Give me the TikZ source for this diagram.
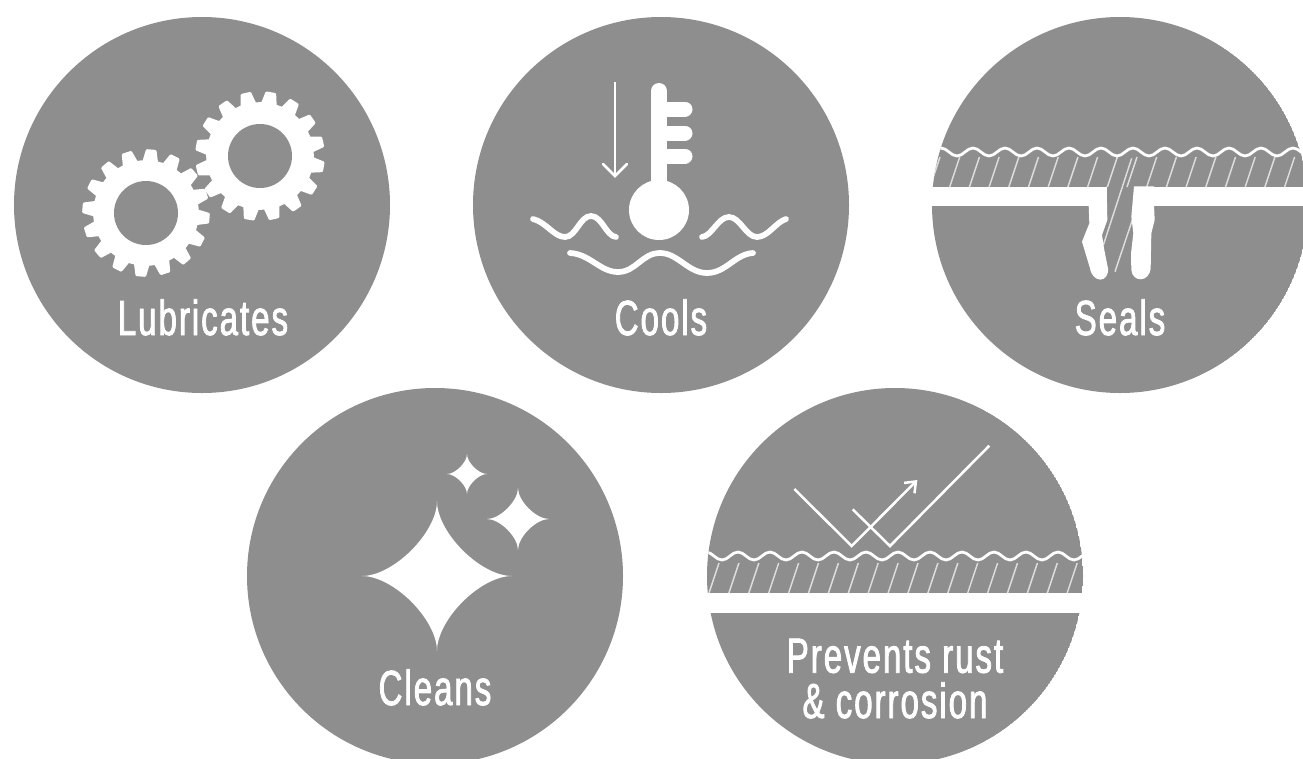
\documentclass[tikz,border=0pt]{standalone}
\usepackage{fontspec}
\newfontfamily\labfont[FakeStretch=0.67,LetterSpace=4,FakeBold=1.6]{Liberation Sans}
\definecolor{disc}{RGB}{143,142,143}
\usetikzlibrary{arrows.meta}
\tikzset{
 discshape/.style={fill=disc,draw=none},
 caption/.style={text=white,font=\labfont\fontsize{37}{34}\selectfont,align=center,inner sep=0pt,anchor=base},
 wave/.style={draw=white,line width=4.3pt,line cap=round,fill=none},
 surface/.style={draw=white,line width=2.1pt,fill=none},
 hatch/.style={draw=white,line width=1.1pt,opacity=.7},
 bandgap/.style={fill=white,draw=none},
 rayline/.style={draw=white,line width=1.9pt,line join=miter},
 toothed/.style={fill=white,draw=white,line width=2pt,line join=round},
}
\newcommand{\gearat}[4]{% x,y,rotation,outer radius
 \fill[toothed,shift={(#1,#2)},rotate=#3]
  (0:#4-12.5) \foreach \i in {0,...,15}{
   -- ({\i*22.5+2.5}:#4-12.5) -- ({\i*22.5+6}:#4-1.5) -- ({\i*22.5+13.5}:#4-1.5) -- ({\i*22.5+17}:#4-12.5) -- ({(\i+1)*22.5}:#4-12.5)
  } -- cycle;
 \fill[disc] (#1,#2) circle[radius=32];
}
\newcommand{\ripple}[3]{% x start, y of first trough, periods
 \draw[surface] (#1,#2) \foreach \k in {1,...,#3}{
   .. controls +(6,0) and +(-6,0) .. ++(16,-8) .. controls +(6,0) and +(-6,0) .. ++(16,8)
 };
}
\newcommand{\sparkle}[3]{%
 \fill[white] (#1-#3,#2)
  .. controls (#1-0.58*#3,#2) and (#1,#2-0.58*#3) .. (#1,#2-#3)
  .. controls (#1,#2-0.58*#3) and (#1+0.58*#3,#2) .. (#1+#3,#2)
  .. controls (#1+0.58*#3,#2) and (#1,#2+0.58*#3) .. (#1,#2+#3)
  .. controls (#1,#2+0.58*#3) and (#1-0.58*#3,#2) .. cycle;}
\begin{document}
\begin{tikzpicture}[x=0.75pt,y=-0.75pt,line cap=butt]
\useasboundingbox (0,0) rectangle (1303,758);
\clip (0,0) rectangle (1303,758);
\fill[white] (0,0) rectangle (1303,758);
% Lubricates
\fill[discshape] (202,205) circle[radius=188];
\gearat{146}{213}{5}{64}
\gearat{260}{156}{0}{65}
\node[caption] (lub) at (203,335) {Lubricates};
% Cools
\fill[discshape] (661,205) circle[radius=188];
\draw[white,line width=16*0.75pt,line cap=round] (659,91) -- (659,200);
\foreach \yy in {109,133,156}{\draw[white,line width=15*0.75pt,line cap=round] (659,\yy) -- (685,\yy);}
\fill[white] (659,210) circle[radius=30];
\draw[white,line width=2pt] (615,82) -- (615,175);
\draw[white,line width=2pt,line cap=round,line join=miter] (603,164) -- (615,176) -- (627,164);
\draw[wave] (533,219) .. controls (546,222) and (554,237) .. (565,237) .. controls (576,237) and (580,216) .. (591,216) .. controls (602,216) and (606,236) .. (616,237);
\draw[wave] (702,237) .. controls (712,236) and (718,217) .. (729,217) .. controls (740,217) and (746,237) .. (757,237) .. controls (768,237) and (776,222) .. (786,219);
\draw[wave] (570,253) .. controls (590,254) and (600,272) .. (618,272) .. controls (636,272) and (642,253) .. (660,253) .. controls (678,253) and (688,273) .. (707,273) .. controls (726,273) and (735,254) .. (753,253);
\node[caption] (coo) at (661,335) {Cools};
% Seals
\begin{scope}
\clip (1120,205) circle[radius=188];
\fill[discshape] (1120,205) circle[radius=188];
\ripple{925}{156}{13}
\foreach \xx in {0,...,20}{\draw[hatch] ({930+\xx*19.7},187) -- ({940+\xx*19.7},157);}
\end{scope}
\begin{scope}[shift={(930,120)},scale=1/3]
\fill[bandgap] (-20,200) rectangle (530,258);
\fill[bandgap] (612,200) rectangle (1200,258);
\fill[bandgap] (530,199) -- (532,300) -- (516,345) -- (522,385) -- (534,445)
  .. controls (537,490) and (488,490) .. (480,445) -- (456,365) -- (478,310) -- (476,255) -- cycle;
\fill[bandgap] (612,199) -- (604,290) -- (610,340) -- (603,400) -- (604,450)
  .. controls (608,488) and (657,488) .. (662,445) -- (664,340) -- (674,300) -- (672,255) -- (672,199) -- cycle;
\draw[hatch] (605,115) -- (520,375);
\draw[hatch] (612,285) -- (555,455);
\end{scope}
\node[caption] (sea) at (1120,335) {Seals};
% Cleans
\fill[discshape] (435,576) circle[radius=188];
\sparkle{437}{576}{75}
\sparkle{518}{519}{31}
\sparkle{467}{474}{20}
\node[caption] (cle) at (435,705) {Cleans};
% Rust
\begin{scope}
\clip (895,576) circle[radius=188];
\fill[discshape] (895,576) circle[radius=188];
\ripple{690}{560}{13}
\foreach \xx in {0,...,19}{\draw[hatch] ({709+\xx*19.9},593) -- ({719+\xx*19.9},563);}
\end{scope}
\fill[bandgap] (700,593) rectangle (1090,612.5);
\begin{scope}[shift={(700,430)},scale=1/3]
\coordinate (ra) at (283,177); \coordinate (rb) at (455,348); \coordinate (rc) at (652,150);
\coordinate (rd) at (458,238); \coordinate (re) at (570,348); \coordinate (rf) at (868,47);
\draw[rayline,-{Straight Barb[length=7pt,width=11pt]}] (ra) -- (rb) -- (rc);
\draw[rayline] (rd) -- (re) -- (rf);
\end{scope}
\node[caption] (rus) at (895,718) {Prevents rust\\\& corrosion};
\end{tikzpicture}
\end{document}
